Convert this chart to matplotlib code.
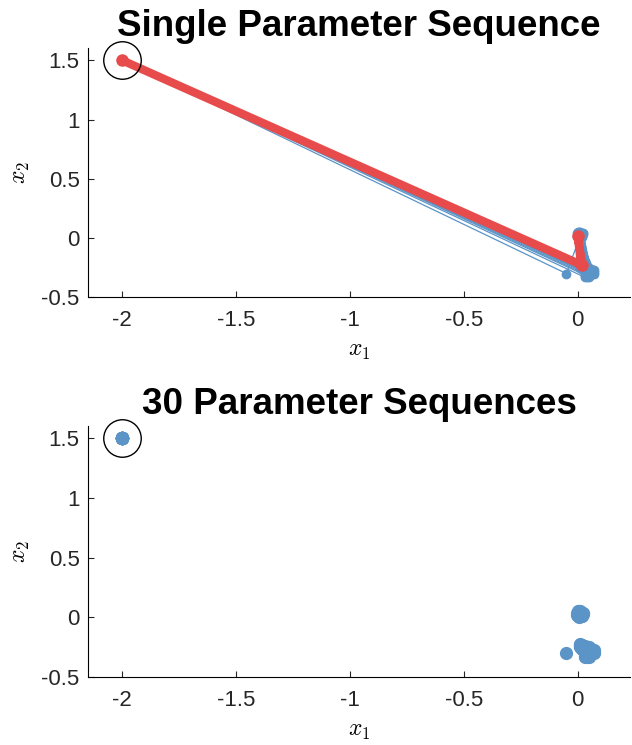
import numpy as np
import matplotlib
matplotlib.use("Agg")
import matplotlib.pyplot as plt

plt.rcParams['font.family'] = ['Liberation Sans', 'DejaVu Sans']
plt.rcParams['mathtext.fontset'] = 'cm'

# starting point shared by every sequence
start_x1 = -2.0
start_x2 = 1.5

# 30 parameter sequences: three steps after the start
step1_x1 = [0.02, 0.03, 0.01, 0.04, 0.02, 0.05, 0.03, 0.02, 0.01, 0.04,
            0.03, 0.02, 0.06, 0.01, 0.03, 0.02, 0.04, -0.05, 0.03, 0.02,
            0.05, 0.01, 0.03, 0.04, 0.02, 0.03, 0.01, 0.05, 0.02, 0.04]
step1_x2 = [-0.24, -0.26, -0.23, -0.28, -0.25, -0.30, -0.27, -0.24, -0.22, -0.31,
            -0.25, -0.26, -0.27, -0.24, -0.29, -0.23, -0.26, -0.30, -0.33, -0.25,
            -0.28, -0.23, -0.24, -0.32, -0.26, -0.27, -0.25, -0.29, -0.24, -0.26]
step2_x1 = [0.00, 0.01, -0.005, 0.02, 0.01, 0.00, 0.015, 0.005, 0.025, 0.01,
            0.00, 0.02, 0.01, 0.005, 0.015, -0.005, 0.02, 0.01, 0.005, 0.00,
            0.025, 0.01, 0.015, 0.00, 0.005, 0.02, 0.01, 0.00, 0.015, 0.01]
step2_x2 = [0.03, 0.04, 0.02, 0.03, 0.01, 0.05, 0.02, 0.00, 0.04, 0.03,
            0.02, 0.01, 0.04, 0.03, 0.02, 0.04, 0.03, 0.01, 0.05, 0.02,
            0.03, 0.02, 0.04, 0.01, 0.03, 0.02, 0.05, 0.03, 0.01, 0.02]
step3_x1 = [0.04, 0.05, 0.06, 0.03, 0.05, 0.07, 0.04, 0.06, 0.05, 0.03,
            0.06, 0.04, 0.05, 0.07, 0.04, 0.05, 0.06, 0.03, 0.05, 0.04,
            0.06, 0.05, 0.04, 0.07, 0.05, 0.03, 0.06, 0.04, 0.05, 0.06]
step3_x2 = [-0.28, -0.30, -0.26, -0.32, -0.29, -0.27, -0.31, -0.28, -0.25, -0.30,
            -0.29, -0.33, -0.27, -0.30, -0.26, -0.31, -0.28, -0.29, -0.32, -0.27,
            -0.30, -0.28, -0.26, -0.29, -0.31, -0.27, -0.30, -0.28, -0.33, -0.29]

# the highlighted single sequence
single_x1 = [-2.0, 0.02, 0.0, 0.015]
single_x2 = [1.5, -0.23, 0.02, -0.22]

blue = '#5b94c6'
red = '#e84b4b'

seq_x1 = np.column_stack([np.full(30, start_x1), step1_x1, step2_x1, step3_x1])
seq_x2 = np.column_stack([np.full(30, start_x2), step1_x2, step2_x2, step3_x2])

fig = plt.figure(figsize=(6.32, 7.45), dpi=100)
ax1 = fig.add_axes([0.139, 0.601, 0.858, 0.334])
ax2 = fig.add_axes([0.139, 0.091, 0.858, 0.337])

for i in range(30):
    ax1.plot(seq_x1[i], seq_x2[i], '-o', color=blue, lw=0.9, ms=6, mec=blue)
ax1.plot(single_x1, single_x2, '-o', color=red, lw=6, ms=8, solid_capstyle='round')
ax1.set_title('Single Parameter Sequence', fontsize=26.5, fontweight='bold', pad=9)

ax2.plot(seq_x1.ravel(), seq_x2.ravel(), 'o', color=blue, ms=8.5, mec=blue)
ax2.set_title('30 Parameter Sequences', fontsize=26.5, fontweight='bold', pad=9)

for ax in (ax1, ax2):
    ax.plot([start_x1], [start_x2], 'o', mfc='none', mec='black', ms=27, mew=1, clip_on=False)
    ax.set_xlim(-2.15, 0.23)
    ax.set_ylim(-0.5, 1.6)
    ax.set_xticks([-2, -1.5, -1, -0.5, 0])
    ax.set_xticklabels(['-2', '-1.5', '-1', '-0.5', '0'])
    ax.set_yticks([-0.5, 0, 0.5, 1, 1.5])
    ax.set_yticklabels(['-0.5', '0', '0.5', '1', '1.5'])
    ax.tick_params(direction='in', length=4.5, labelsize=16, width=0.8, colors='#262626')
    ax.tick_params(axis='x', pad=9)
    ax.tick_params(axis='y', pad=6)
    ax.spines['top'].set_visible(False)
    ax.spines['right'].set_visible(False)
    ax.set_xlabel(r'$x_1$', fontsize=17, labelpad=7)
    ax.set_ylabel(r'$x_2$', fontsize=17, labelpad=7)

fig.savefig('out.png', dpi=100)
